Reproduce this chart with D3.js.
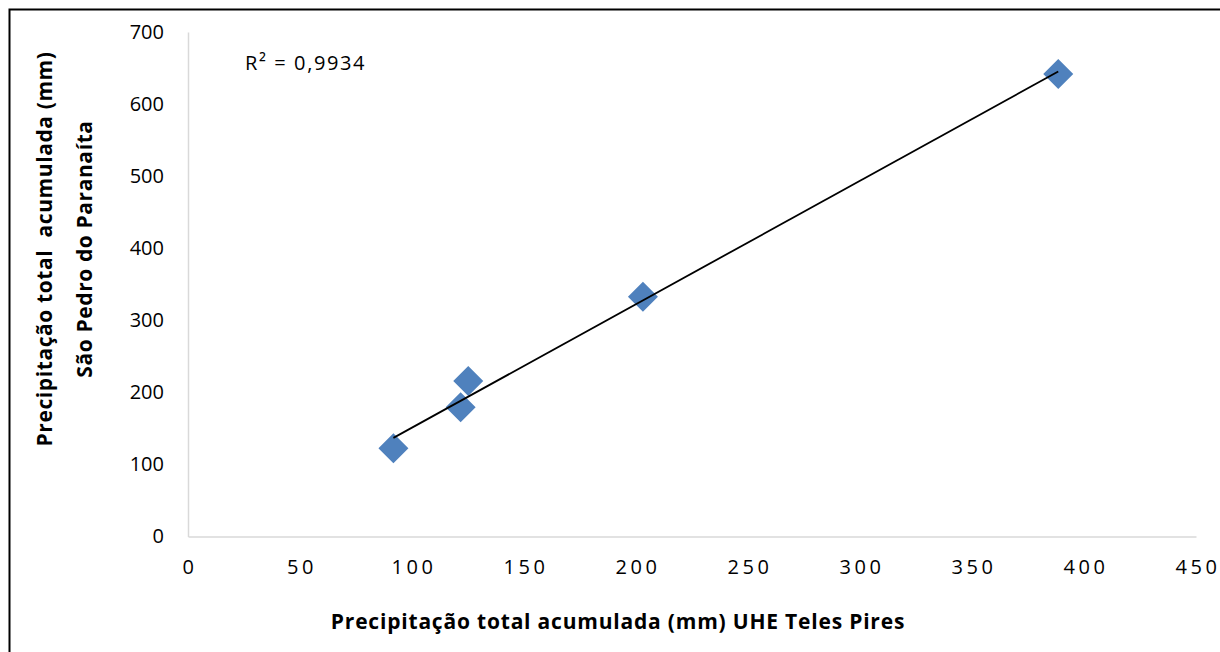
<!DOCTYPE html>
<html lang="pt">
<head>
    <meta charset="UTF-8">
    <title>Precipitação total acumulada</title>
    <style>
        body {
            margin: 0;
            padding: 0;
            background-color: #fff;
            font-family: 'Open Sans', sans-serif;
        }
        .tick text {
            font-family: 'Open Sans', sans-serif;
            fill: #000;
        }
    </style>
</head>
<body>
<div id="chart"></div>
<script src="https://d3js.org/d3.v7.min.js"></script>
<script>
    // Precipitação UHE Teles Pires (x) vs São Pedro do Paranaíta (y), mm
    const telesPires = [91.7, 121.7, 125.1, 203.1, 388.5];
    const saoPedro = [122.4, 179.3, 215.8, 332.7, 641.7];
    const xTicks = [0, 50, 100, 150, 200, 250, 300, 350, 400, 450];
    const yTicks = [0, 100, 200, 300, 400, 500, 600, 700];
    const r2Label = "R² = 0,9934";

    const width = 1220;
    const height = 652;
    const margin = {top: 32, right: 24, bottom: 115.5, left: 188};

    const svg = d3.select("#chart")
        .append("svg")
        .attr("width", width)
        .attr("height", height);

    // outer frame (only top and left edges visible in the picture)
    svg.append("rect")
        .attr("x", 9.5)
        .attr("y", 9.5)
        .attr("width", width + 20)
        .attr("height", height + 20)
        .attr("fill", "none")
        .attr("stroke", "#000")
        .attr("stroke-width", 2);

    const x = d3.scaleLinear()
        .domain([0, 450])
        .range([margin.left, 1196]);

    const y = d3.scaleLinear()
        .domain([0, 700])
        .range([height - margin.bottom, margin.top]);

    // axes
    const xAxis = svg.append("g")
        .attr("transform", "translate(0," + y(0) + ")")
        .call(d3.axisBottom(x).tickValues(xTicks).tickSize(0).tickPadding(23));
    xAxis.select(".domain").attr("stroke", "#d9d9d9").attr("stroke-width", 1.5);
    xAxis.selectAll("text")
        .style("font-size", "20px")
        .style("letter-spacing", "3.5px")
        .attr("dx", "1.5px");

    const yAxis = svg.append("g")
        .attr("transform", "translate(" + x(0) + ",0)")
        .call(d3.axisLeft(y).tickValues(yTicks).tickSize(0).tickPadding(24));
    yAxis.select(".domain").attr("stroke", "#d9d9d9").attr("stroke-width", 1.5);
    yAxis.selectAll("text").style("font-size", "20px");

    // linear trendline from least squares on the data
    const n = telesPires.length;
    const mx = d3.mean(telesPires);
    const my = d3.mean(saoPedro);
    let sxy = 0, sxx = 0;
    for (let i = 0; i < n; i++) {
        sxy += (telesPires[i] - mx) * (saoPedro[i] - my);
        sxx += (telesPires[i] - mx) * (telesPires[i] - mx);
    }
    const slope = sxy / sxx;
    const intercept = my - slope * mx;
    const xMin = d3.min(telesPires);
    const xMax = d3.max(telesPires);

    // points
    const diamond = d3.symbol().type(d3.symbolSquare).size(450);
    svg.append("g")
        .selectAll("path")
        .data(telesPires)
        .enter().append("path")
        .attr("d", diamond)
        .attr("transform", function (d, i) {
            return "translate(" + x(d) + "," + y(saoPedro[i]) + ") rotate(45)";
        })
        .attr("fill", "#4f81bd");

    svg.append("line")
        .attr("x1", x(xMin))
        .attr("y1", y(slope * xMin + intercept))
        .attr("x2", x(xMax))
        .attr("y2", y(slope * xMax + intercept))
        .attr("stroke", "#000")
        .attr("stroke-width", 1.8);

    svg.append("text")
        .attr("x", 245)
        .attr("y", 70)
        .style("font-size", "20px")
        .style("letter-spacing", "1.6px")
        .text(r2Label);

    // axis titles
    svg.append("text")
        .attr("x", 618)
        .attr("y", 629)
        .attr("text-anchor", "middle")
        .style("font-size", "21px")
        .style("font-weight", "bold")
        .style("letter-spacing", "0.8px")
        .text("Precipitação total acumulada (mm) UHE Teles Pires");

    const yTitle = svg.append("text")
        .attr("transform", "translate(0,249) rotate(-90)")
        .attr("text-anchor", "middle")
        .style("font-size", "21px")
        .style("font-weight", "bold")
        .style("letter-spacing", "0.6px");
    yTitle.append("tspan")
        .attr("x", 0)
        .attr("y", 52)
        .style("white-space", "pre")
        .text("Precipitação total  acumulada (mm)");
    yTitle.append("tspan")
        .attr("x", 0)
        .attr("y", 92)
        .text("São Pedro do Paranaíta");
</script>
</body>
</html>
